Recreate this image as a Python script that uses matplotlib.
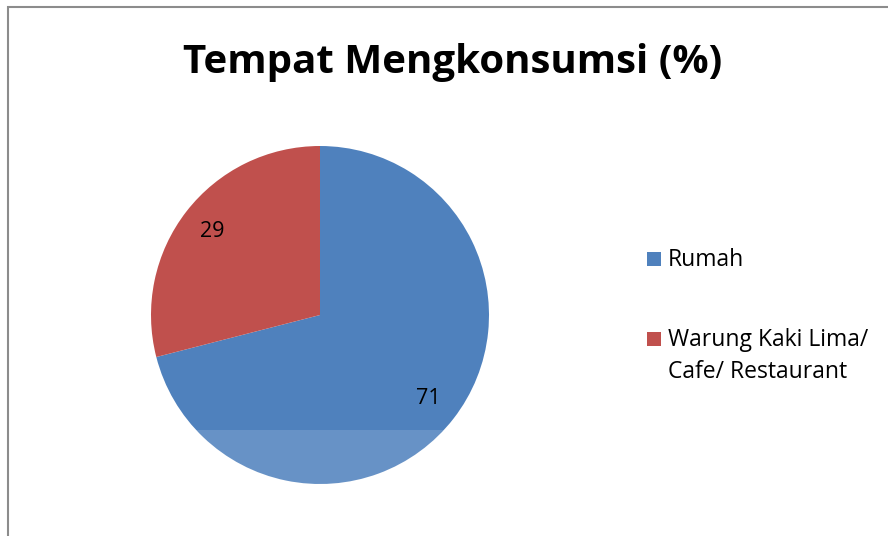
import matplotlib.pyplot as plt
from matplotlib.patches import Rectangle

plt.rcParams['font.family'] = ['Open Sans', 'DejaVu Sans']

# data
labels = ['Rumah', 'Warung Kaki Lima/\nCafe/ Restaurant']
values = [71, 29]
colors = ['#4F81BD', '#C0504D']

W, H = 888, 536
fig = plt.figure(figsize=(W / 100, H / 100), dpi=100)


def fx(px):
    return px / W


def fy(py):
    return 1 - py / H


# pie axes: centre (320, 315) px, radius 169 px
r = 169
ax = fig.add_axes([fx(320 - r), fy(315 + r), 2 * r / W, 2 * r / H])
wedges, texts, autotexts = ax.pie(values, colors=colors, startangle=90, counterclock=False,
                                  radius=1, autopct=lambda p: '%d' % round(p),
                                  pctdistance=0.81, wedgeprops=dict(linewidth=0),
                                  textprops=dict(fontsize=15.5, color='black'))
ax.set_xlim(-1, 1)
ax.set_ylim(-1, 1)
ax.set_aspect('auto')
ax.axis('off')

fig.text(fx(453), fy(63), 'Tempat Mengkonsumsi (%)', ha='center', va='center',
         fontsize=29, fontweight='bold')

# legend, drawn by hand so the marker sits on the first text line
top = [252, 332]
for c, lab, y0 in zip(colors, labels, top):
    fig.add_artist(Rectangle((fx(647), fy(y0 + 14)), 14 / W, 14 / H,
                             transform=fig.transFigure, facecolor=c, edgecolor='none'))
    for i, line in enumerate(lab.split('\n')):
        fig.text(fx(668), fy(y0 + 14 + i * 32), line, ha='left', va='baseline', fontsize=16.5)

# faint lighter band at the bottom (scan overlay)
fig.add_artist(Rectangle((fx(140), 0), 380 / W, (H - 430) / H, transform=fig.transFigure,
                         facecolor='white', alpha=0.14, edgecolor='none', zorder=5))
# chart frame
fig.add_artist(Rectangle((fx(8), -0.1), 1.2, fy(7) + 0.1, transform=fig.transFigure,
                         fill=False, edgecolor='#8c8c8c', linewidth=1.5, zorder=6))

fig.savefig('out.png', dpi=100)
